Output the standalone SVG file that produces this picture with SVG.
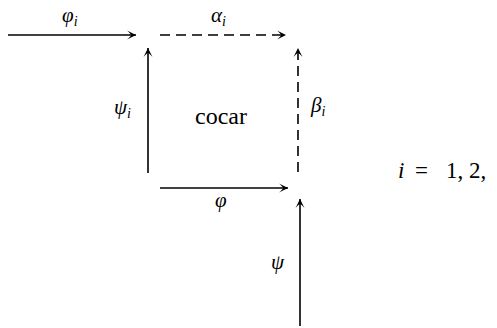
<svg xmlns="http://www.w3.org/2000/svg" width="497" height="328" viewBox="0 0 497 328">
<defs>
<marker id="ah" markerUnits="userSpaceOnUse" markerWidth="14" markerHeight="14" viewBox="-10 -7 12 14" refX="0" refY="0" orient="auto">
<path d="M0,0 L-9,-4.5 Q-5,-1 -5,0 Q-5,1 -9,4.5 Z" fill="#000"/>
</marker>
</defs>
<rect width="497" height="328" fill="#fff"/>
<g id="connectors" stroke="#000" stroke-width="1.6" fill="none">
<line x1="8" y1="35" x2="136" y2="35" marker-end="url(#ah)"/>
<line x1="160" y1="35" x2="286" y2="35" stroke-dasharray="10 6" marker-end="url(#ah)"/>
<line x1="148" y1="173" x2="148" y2="48" marker-end="url(#ah)"/>
<line x1="298" y1="172" x2="298" y2="48" stroke-dasharray="10 6" marker-end="url(#ah)"/>
<line x1="160" y1="188" x2="288" y2="188" marker-end="url(#ah)"/>
<line x1="300" y1="326" x2="300" y2="199" marker-end="url(#ah)"/>
</g>
<g id="labels">
<text x="62" y="22" style="font-family:'Liberation Serif',serif;font-style:italic;font-size:21px">φ<tspan style="font-size:14px" dy="4">i</tspan></text>
<text x="211" y="22" style="font-family:'Liberation Serif',serif;font-style:italic;font-size:21px">α<tspan style="font-size:14px" dy="4">i</tspan></text>
<text x="114" y="114" style="font-family:'Liberation Serif',serif;font-style:italic;font-size:21px">ψ<tspan style="font-size:14px" dy="4">i</tspan></text>
<text x="311" y="112" style="font-family:'Liberation Serif',serif;font-style:italic;font-size:21px">β<tspan style="font-size:14px" dy="4">i</tspan></text>
<text x="215" y="207" style="font-family:'Liberation Serif',serif;font-style:italic;font-size:21px">φ</text>
<text x="271" y="269" style="font-family:'Liberation Serif',serif;font-style:italic;font-size:21px">ψ</text>
</g>
<g id="cocar">
<text x="195" y="124" style="font-family:'Liberation Serif',serif;font-size:24px">cocar</text>
</g>
<g id="index">
<text x="398" y="178" style="font-family:'Liberation Serif',serif;font-style:italic;font-size:23px">i</text>
<text x="415" y="178" style="font-family:'Liberation Serif',serif;font-size:23px">=</text>
<text x="446" y="178" style="font-family:'Liberation Serif',serif;font-size:23px">1,</text>
<text x="469" y="178" style="font-family:'Liberation Serif',serif;font-size:23px">2,</text>
</g>
</svg>
